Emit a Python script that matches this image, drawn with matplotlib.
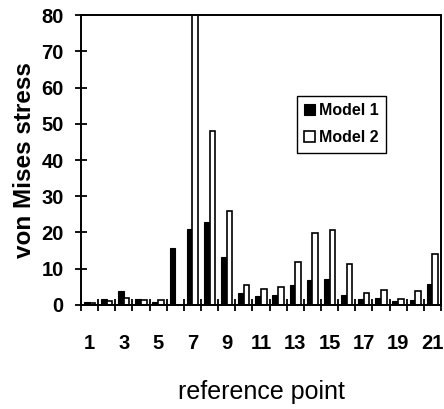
import numpy as np
import matplotlib
matplotlib.use("Agg")
from matplotlib import pyplot as plt

plt.rcParams['font.family'] = ['Liberation Sans', 'DejaVu Sans']

points = np.arange(1, 22)
model1 = [0.9, 1.7, 3.9, 1.6, 0.8, 15.6, 21.0, 23.0, 13.3, 3.3, 2.5,
          2.8, 5.5, 6.9, 7.3, 2.8, 1.7, 2.0, 1.0, 1.4, 5.8]
model2 = [0.5, 1.1, 1.8, 1.4, 1.3, 0.0, 85.0, 48.0, 26.0, 5.5, 4.4,
          5.1, 11.8, 19.9, 20.7, 11.2, 3.4, 4.1, 1.6, 3.9, 14.0]
tick_labels = [str(p) for p in range(1, 22, 2)]

fig = plt.figure(figsize=(4.44, 4.09), dpi=100)
ax = fig.add_axes([0.1824, 0.2543, 0.8108, 0.709])

w = 0.33
b1 = ax.bar(points - w / 2, model1, w, color='black', edgecolor='black',
            linewidth=0.8, label='Model 1')
b2 = ax.bar(points + w / 2, model2, w, color='white', edgecolor='black',
            linewidth=1.2, label='Model 2')

ax.set_xlim(0.5, 21.5)
ax.set_ylim(0, 80)
ax.set_yticks(np.arange(0, 81, 10))
ax.set_xticks(np.arange(1, 22, 2))
ax.set_xticklabels(tick_labels)
ax.set_xticks(np.arange(0.5, 22, 1), minor=True)

ax.tick_params(axis='x', which='major', length=0, pad=21,
               labelsize=14.5)
ax.tick_params(axis='x', which='minor', direction='inout', length=8,
               width=1.3)
ax.tick_params(axis='y', direction='inout', length=9, width=1.3, pad=8,
               labelsize=14.5)
for lab in ax.get_xticklabels() + ax.get_yticklabels():
    lab.set_fontweight('bold')

for s in ax.spines.values():
    s.set_linewidth(1.4)

ax.set_xlabel('reference point', fontsize=18, labelpad=19)
ax.set_ylabel('von Mises stress', fontsize=17.5, fontweight='bold',
              labelpad=4)

leg = ax.legend(loc='upper left', bbox_to_anchor=(0.6, 0.72),
                borderaxespad=0, fancybox=False, edgecolor='black',
                framealpha=1, handlelength=0.7, handleheight=0.7,
                handletextpad=0.25, borderpad=0.45, labelspacing=0.75,
                prop={'size': 11.5, 'weight': 'bold'})
leg.get_frame().set_linewidth(1.0)

fig.savefig('out.png', dpi=100)
